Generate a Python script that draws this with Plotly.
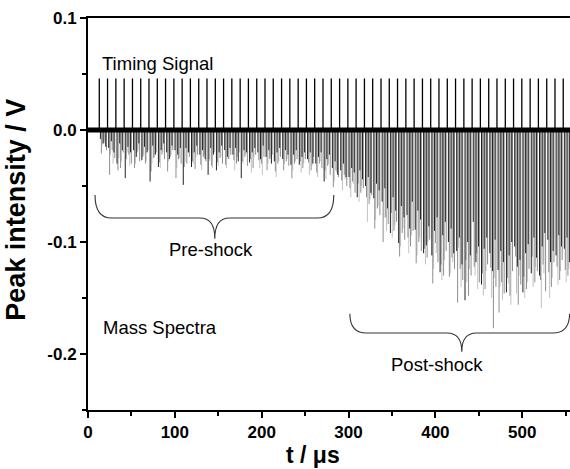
import plotly.graph_objects as go

# ---------------- data ----------------
# timing-signal spike times (us) and heights (V)
TIMING_T = [13.0, 22.5, 32.1, 41.6, 51.2, 60.7, 70.2, 79.8, 89.3, 98.9,
            108.4, 117.9, 127.5, 137.0, 146.6, 156.1, 165.6, 175.2, 184.7, 194.3,
            203.8, 213.3, 222.9, 232.4, 242.0, 251.5, 261.0, 270.6, 280.1, 289.7,
            299.2, 308.7, 318.3, 327.8, 337.4, 346.9, 356.4, 366.0, 375.5, 385.1,
            394.6, 404.1, 413.7, 423.2, 432.8, 442.3, 451.8, 461.4, 470.9, 480.5,
            490.0, 499.5, 509.1, 518.6, 528.2, 537.7, 547.2]
TIMING_V = [0.046, 0.046, 0.046, 0.046, 0.046, 0.046, 0.046, 0.046, 0.046, 0.046,
            0.046, 0.046, 0.046, 0.046, 0.046, 0.046, 0.046, 0.046, 0.046, 0.046,
            0.046, 0.046, 0.046, 0.046, 0.046, 0.046, 0.046, 0.046, 0.046, 0.046,
            0.046, 0.046, 0.046, 0.046, 0.046, 0.046, 0.046, 0.046, 0.046, 0.046,
            0.046, 0.046, 0.046, 0.046, 0.046, 0.046, 0.046, 0.046, 0.046, 0.046,
            0.046, 0.046, 0.046, 0.046, 0.046, 0.046, 0.046]

# baseline (noise band) of the recorded trace
BASELINE_T = [0, 555]
BASELINE_V = [0.0, 0.0]

# flight-time offsets (us, after each timing spike) of the mass peaks
DARK_OFFSETS = [1.3, 4.4, 7.4]
GRAY_OFFSETS = [2.4, 5.4, 8.3]
LIGHT_OFFSETS = [3.4, 6.4]

# peak intensities (V) per acquisition (one row per timing spike)
DARK_V = [
    [-0.008, -0.012, -0.015], [-0.016, -0.010, -0.020], [-0.030, -0.012, -0.018],
    [-0.043, -0.015, -0.020], [-0.018, -0.024, -0.012], [-0.027, -0.015, -0.020],
    [-0.046, -0.014, -0.022], [-0.033, -0.018, -0.012], [-0.020, -0.026, -0.014],
    [-0.018, -0.022, -0.016], [-0.049, -0.016, -0.020], [-0.033, -0.020, -0.014],
    [-0.022, -0.018, -0.026], [-0.040, -0.016, -0.022], [-0.036, -0.020, -0.014],
    [-0.018, -0.024, -0.016], [-0.022, -0.016, -0.028], [-0.043, -0.018, -0.020],
    [-0.029, -0.020, -0.016], [-0.020, -0.026, -0.014], [-0.024, -0.018, -0.030],
    [-0.028, -0.020, -0.016], [-0.026, -0.018, -0.022], [-0.031, -0.022, -0.018],
    [-0.031, -0.024, -0.020], [-0.026, -0.020, -0.030], [-0.030, -0.024, -0.020],
    [-0.046, -0.026, -0.022], [-0.034, -0.028, -0.040], [-0.036, -0.030, -0.042],
    [-0.042, -0.034, -0.038], [-0.060, -0.036, -0.044], [-0.050, -0.042, -0.056],
    [-0.061, -0.048, -0.054], [-0.064, -0.052, -0.070], [-0.092, -0.060, -0.072],
    [-0.101, -0.068, -0.078], [-0.076, -0.088, -0.064], [-0.089, -0.072, -0.080],
    [-0.110, -0.103, -0.086], [-0.112, -0.090, -0.078], [-0.127, -0.094, -0.082],
    [-0.100, -0.088, -0.110], [-0.108, -0.096, -0.120], [-0.152, -0.100, -0.112],
    [-0.082, -0.118, -0.104], [-0.138, -0.106, -0.096], [-0.110, -0.126, -0.098],
    [-0.125, -0.108, -0.118], [-0.145, -0.112, -0.100], [-0.104, -0.122, -0.116],
    [-0.145, -0.110, -0.102], [-0.128, -0.096, -0.114], [-0.130, -0.104, -0.092],
    [-0.098, -0.118, -0.108], [-0.112, -0.094, -0.104], [-0.106, -0.096, -0.118],
]
GRAY_V = [
    [-0.021, -0.012, -0.018], [-0.040, -0.018, -0.025], [-0.036, -0.034, -0.020],
    [-0.026, -0.022, -0.030], [-0.034, -0.020, -0.028], [-0.024, -0.030, -0.018],
    [-0.037, -0.025, -0.020], [-0.029, -0.022, -0.026], [-0.037, -0.024, -0.018],
    [-0.043, -0.026, -0.030], [-0.033, -0.030, -0.024], [-0.028, -0.035, -0.022],
    [-0.031, -0.024, -0.028], [-0.026, -0.032, -0.020], [-0.029, -0.025, -0.030],
    [-0.031, -0.026, -0.022], [-0.027, -0.030, -0.020], [-0.028, -0.024, -0.032],
    [-0.026, -0.034, -0.022], [-0.027, -0.030, -0.024], [-0.036, -0.026, -0.022],
    [-0.037, -0.030, -0.024], [-0.036, -0.028, -0.032], [-0.043, -0.030, -0.026],
    [-0.028, -0.034, -0.026], [-0.029, -0.036, -0.024], [-0.038, -0.030, -0.034],
    [-0.036, -0.032, -0.040], [-0.051, -0.036, -0.042], [-0.045, -0.040, -0.050],
    [-0.052, -0.046, -0.056], [-0.048, -0.056, -0.052], [-0.060, -0.066, -0.058],
    [-0.088, -0.070, -0.076], [-0.100, -0.078, -0.084], [-0.074, -0.090, -0.082],
    [-0.113, -0.092, -0.098], [-0.096, -0.104, -0.090], [-0.119, -0.100, -0.108],
    [-0.106, -0.114, -0.098], [-0.137, -0.101, -0.118], [-0.120, -0.130, -0.108],
    [-0.131, -0.114, -0.124], [-0.154, -0.124, -0.134], [-0.116, -0.148, -0.130],
    [-0.122, -0.110, -0.136], [-0.128, -0.142, -0.120], [-0.123, -0.177, -0.140],
    [-0.163, -0.136, -0.146], [-0.132, -0.148, -0.126], [-0.113, -0.156, -0.138],
    [-0.131, -0.142, -0.124], [-0.113, -0.136, -0.126], [-0.134, -0.120, -0.144],
    [-0.127, -0.140, -0.118], [-0.122, -0.134, -0.116], [-0.125, -0.130, -0.112],
]
LIGHT_V = [
    [-0.014, -0.010], [-0.022, -0.030], [-0.025, -0.028], [-0.020, -0.032],
    [-0.030, -0.018], [-0.022, -0.028], [-0.030, -0.024], [-0.034, -0.020],
    [-0.028, -0.022], [-0.034, -0.025], [-0.028, -0.020], [-0.030, -0.024],
    [-0.036, -0.022], [-0.028, -0.034], [-0.032, -0.024], [-0.034, -0.026],
    [-0.036, -0.024], [-0.030, -0.022], [-0.038, -0.024], [-0.034, -0.040],
    [-0.030, -0.025], [-0.042, -0.028], [-0.030, -0.026], [-0.036, -0.028],
    [-0.038, -0.030], [-0.040, -0.032], [-0.042, -0.028], [-0.044, -0.030],
    [-0.046, -0.038], [-0.054, -0.044], [-0.060, -0.048], [-0.064, -0.050],
    [-0.082, -0.062], [-0.080, -0.068], [-0.079, -0.090], [-0.096, -0.085],
    [-0.104, -0.088], [-0.110, -0.094], [-0.112, -0.096], [-0.120, -0.100],
    [-0.124, -0.110], [-0.134, -0.116], [-0.128, -0.118], [-0.105, -0.140],
    [-0.136, -0.124], [-0.130, -0.142], [-0.148, -0.126], [-0.150, -0.132],
    [-0.140, -0.152], [-0.137, -0.156], [-0.146, -0.130], [-0.150, -0.136],
    [-0.140, -0.122], [-0.159, -0.128], [-0.150, -0.132], [-0.138, -0.126],
    [-0.136, -0.124],
]

X_TICKS = [0, 100, 200, 300, 400, 500]
X_TICK_TEXT = ["0", "100", "200", "300", "400", "500"]
X_MINOR = [50, 150, 250, 350, 450, 550]
Y_TICKS = [0.1, 0.0, -0.1, -0.2]
Y_TICK_TEXT = ["0.1", "0.0", "-0.1", "-0.2"]
Y_MINOR = [0.05, -0.05, -0.15, -0.25]


def sticks(times, offsets, rows):
    xs, ys = [], []
    for t0, row in zip(times, rows):
        for off, v in zip(offsets, row):
            xs += [t0 + off, t0 + off, None]
            ys += [0, v, None]
    return xs, ys


fig = go.Figure()
for offs, rows, col in [(LIGHT_OFFSETS, LIGHT_V, "#c2c2c2"),
                        (GRAY_OFFSETS, GRAY_V, "#8e8e8e"),
                        (DARK_OFFSETS, DARK_V, "#222222")]:
    xs, ys = sticks(TIMING_T, offs, rows)
    fig.add_trace(go.Scatter(x=xs, y=ys, mode="lines", line=dict(color=col, width=1),
                             hoverinfo="skip", showlegend=False))

fig.add_trace(go.Scatter(x=BASELINE_T, y=BASELINE_V, mode="lines",
                         line=dict(color="black", width=5),
                         hoverinfo="skip", showlegend=False))

tx, ty = [], []
for t, v in zip(TIMING_T, TIMING_V):
    tx += [t, t, None]
    ty += [0, v, None]
fig.add_trace(go.Scatter(x=tx, y=ty, mode="lines", line=dict(color="black", width=1.3),
                         hoverinfo="skip", showlegend=False))


def brace(x0, x1, xc, ytop, yh, ybot, rx, rxc):
    return (f"M {x0},{ytop} Q {x0},{yh} {x0 + rx},{yh} L {xc - rxc},{yh} "
            f"Q {xc},{yh} {xc},{ybot} Q {xc},{yh} {xc + rxc},{yh} "
            f"L {x1 - rx},{yh} Q {x1},{yh} {x1},{ytop}")


for p in [brace(8.1, 283, 146, -0.058, -0.0786, -0.097, 19, 17),
          brace(301.5, 554.5, 430.4, -0.164, -0.1813, -0.198, 19.5, 17)]:
    fig.add_shape(type="path", path=p, xref="x", yref="y",
                  line=dict(color="#333333", width=1.1))

FONT = "Liberation Sans, Arial, sans-serif"
txt = dict(family=FONT, size=18.5, color="black")
fig.add_annotation(x=14.0, y=0.059, text="Timing Signal", showarrow=False,
                   xanchor="left", yanchor="middle", font=txt)
fig.add_annotation(x=15.5, y=-0.176, text="Mass Spectra", showarrow=False,
                   xanchor="left", yanchor="middle", font=txt)
fig.add_annotation(x=142, y=-0.107, text="Pre-shock", showarrow=False,
                   xanchor="center", yanchor="middle", font=txt)
fig.add_annotation(x=401.6, y=-0.209, text="Post-shock", showarrow=False,
                   xanchor="center", yanchor="middle", font=txt)

# axis titles
fig.add_annotation(x=0.467, y=-0.115, xref="paper", yref="paper", text="t / μs",
                   showarrow=False, xanchor="center", yanchor="middle",
                   font=dict(family=FONT, size=23, color="black", weight="bold"))
fig.add_annotation(x=-0.15, y=0.51, xref="paper", yref="paper", text="Peak intensity / V",
                   showarrow=False, xanchor="center", yanchor="middle", textangle=-90,
                   font=dict(family=FONT, size=27, color="black", weight="bold"))

tickfont = dict(family=FONT, size=17, color="black", weight="bold")
fig.update_xaxes(range=[0, 555], showgrid=False, zeroline=False,
                 showline=True, linecolor="black", linewidth=2, mirror=True,
                 tickmode="array", tickvals=X_TICKS, ticktext=X_TICK_TEXT,
                 ticks="outside", ticklen=6, tickwidth=2, tickcolor="black",
                 minor=dict(tickvals=X_MINOR, ticks="outside", ticklen=4, tickwidth=2,
                            tickcolor="black"),
                 tickfont=tickfont)
fig.update_yaxes(range=[-0.25, 0.1], showgrid=False, zeroline=False,
                 showline=True, linecolor="black", linewidth=2,
                 tickmode="array", tickvals=Y_TICKS, ticktext=Y_TICK_TEXT,
                 ticks="outside", ticklen=6, tickwidth=2, tickcolor="black",
                 minor=dict(tickvals=Y_MINOR, ticks="outside", ticklen=4, tickwidth=2,
                            tickcolor="black"),
                 tickfont=tickfont)

fig.update_layout(width=570, height=469, margin=dict(l=88, r=0, t=18, b=59),
                  paper_bgcolor="white", plot_bgcolor="white")

fig.write_html("out.html")
